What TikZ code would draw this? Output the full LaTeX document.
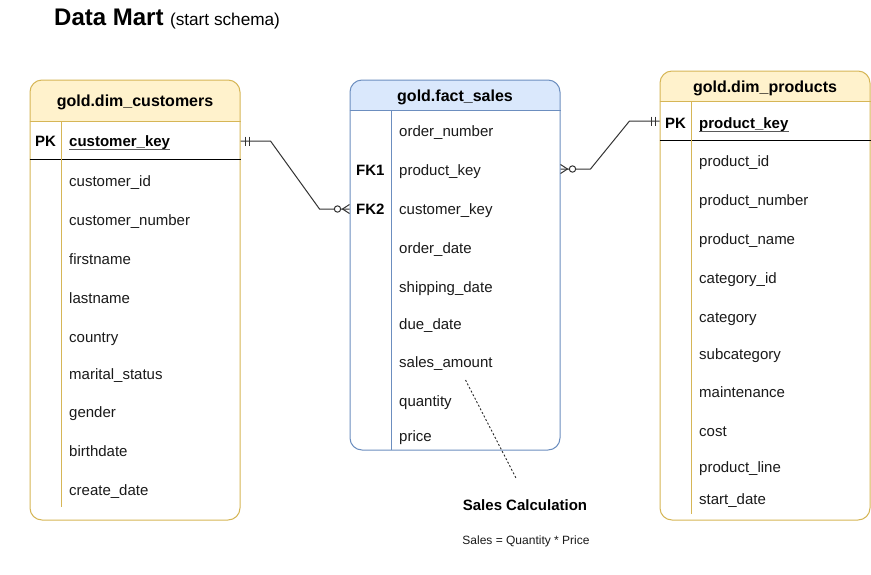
\documentclass[tikz,border=0pt]{standalone}
\usepackage{fontspec}
\setmainfont{Liberation Sans}
\definecolor{yfill}{HTML}{FFF2CC}
\definecolor{ydraw}{HTML}{D6B656}
\definecolor{bfill}{HTML}{DAE8FC}
\definecolor{bdraw}{HTML}{6C8EBF}
\definecolor{txt}{HTML}{1A1A1A}
\tikzset{
  field/.style={anchor=base west, inner sep=0pt, font=\fontsize{15}{18}\selectfont, text=txt},
  keyfield/.style={anchor=base west, inner sep=0pt, font=\fontsize{15}{18}\selectfont\bfseries, text=black},
  tabtitle/.style={anchor=base, inner sep=0pt, font=\fontsize{16}{19}\selectfont\bfseries, text=black},
  tbl/.style={draw, rounded corners=12pt, inner sep=0pt, line width=1pt},
  conn/.style={line width=1pt, draw=black!80},
  sep/.style={line width=1pt},
  uline/.style={line width=1.3pt, draw=black!65},
}
\begin{document}
\begin{tikzpicture}[x=1pt,y=-1pt]
\useasboundingbox (0,0) rectangle (871,574);
\fill[white] (0,0) rectangle (871,574);

% title
\node[anchor=base west, inner sep=0pt] (title) at (54,25)
  {{\fontsize{24}{28}\selectfont\bfseries Data Mart}\hspace{6.5pt}{\fontsize{17.2}{20}\selectfont (start schema)}};

% ---------- customers ----------
\begin{scope}
  \clip[rounded corners=12pt] (30,80) rectangle (240,520);
  \fill[yfill] (30,80) rectangle (240,121);
\end{scope}
\node[tbl, draw=ydraw, minimum width=210pt, minimum height=440pt] (cust) at (135,300) {};
\draw[sep, draw=ydraw] (cust.west |- 0,121) -- (cust.east |- 0,121);
\draw[sep, draw=black] (cust.west |- 0,159) -- (cust.east |- 0,159);
\draw[sep, draw=ydraw] (61,121) -- (61,507);
\node[tabtitle] (custh) at (135,106.5) {gold.dim\_customers};
\coordinate (r-ckey) at (135,141);
\node[keyfield] (cpk) at (35,146.5) {PK};
\node[keyfield] (c1) at (69,146.5) {customer\_key};
\draw[uline] ([yshift=-3pt]c1.base west) -- ([yshift=-3pt]c1.base east);
\node[field] (c2) at (69,186.5) {customer\_id};
\node[field] (c3) at (69,225.5) {customer\_number};
\node[field] (c4) at (69,264.5) {firstname};
\node[field] (c5) at (69,303.5) {lastname};
\node[field] (c6) at (69,342.5) {country};
\node[field] (c7) at (69,379.5) {marital\_status};
\node[field] (c8) at (69,417.5) {gender};
\node[field] (c9) at (69,456.5) {birthdate};
\node[field] (c10) at (69,495.5) {create\_date};

% ---------- fact sales ----------
\begin{scope}
  \clip[rounded corners=12pt] (350,80) rectangle (560,450);
  \fill[bfill] (350,80) rectangle (560,110.5);
\end{scope}
\node[tbl, draw=bdraw, minimum width=210pt, minimum height=370pt] (fact) at (455,265) {};
\draw[sep, draw=bdraw] (fact.west |- 0,110.5) -- (fact.east |- 0,110.5);
\draw[sep, draw=bdraw] (391,110.5) -- (391,450);
\node[tabtitle] (facth) at (455,101.5) {gold.fact\_sales};
\coordinate (r-fk1) at (455,169);
\coordinate (r-fk2) at (455,209);
\node[field] (f1) at (399,136.5) {order\_number};
\node[keyfield] (fk1) at (356,175.5) {FK1};
\node[field] (f2) at (399,175.5) {product\_key};
\node[keyfield] (fk2) at (356,214.5) {FK2};
\node[field] (f3) at (399,214.5) {customer\_key};
\node[field] (f4) at (399,253.5) {order\_date};
\node[field] (f5) at (399,292.5) {shipping\_date};
\node[field] (f6) at (399,329.5) {due\_date};
\node[field] (f7) at (399,367.5) {sales\_amount};
\node[field] (f8) at (399,406.5) {quantity};
\node[field] (f9) at (399,441.5) {price};

% ---------- products ----------
\begin{scope}
  \clip[rounded corners=12pt] (660,71) rectangle (870,520);
  \fill[yfill] (660,71) rectangle (870,101.5);
\end{scope}
\node[tbl, draw=ydraw, minimum width=210pt, minimum height=449pt] (prod) at (765,295.5) {};
\draw[sep, draw=ydraw] (prod.west |- 0,101.5) -- (prod.east |- 0,101.5);
\draw[sep, draw=black] (prod.west |- 0,140.5) -- (prod.east |- 0,140.5);
\draw[sep, draw=ydraw] (691,101.5) -- (691,514);
\node[tabtitle] (prodh) at (765,92.5) {gold.dim\_products};
\coordinate (r-pkey) at (765,121);
\node[keyfield] (ppk) at (665,128.5) {PK};
\node[keyfield] (p1) at (699,128.5) {product\_key};
\draw[uline] ([yshift=-3pt]p1.base west) -- ([yshift=-3pt]p1.base east);
\node[field] (p2) at (699,166.5) {product\_id};
\node[field] (p3) at (699,205.5) {product\_number};
\node[field] (p4) at (699,244.5) {product\_name};
\node[field] (p5) at (699,283.5) {category\_id};
\node[field] (p6) at (699,322.5) {category};
\node[field] (p7) at (699,359.5) {subcategory};
\node[field] (p8) at (699,397.5) {maintenance};
\node[field] (p9) at (699,436.5) {cost};
\node[field] (p10) at (699,472.5) {product\_line};
\node[field] (p11) at (699,504.5) {start\_date};

% ---------- connectors ----------
\draw[conn] (cust.east |- r-ckey) -- ++(30,0) -- ([xshift=-30pt]fact.west |- r-fk2) -- (fact.west |- r-fk2);
% one-mandatory ticks at customers
\draw[conn] ([xshift=5pt]cust.east |- r-ckey) ++(0,-4.5) -- ++(0,9);
\draw[conn] ([xshift=9pt]cust.east |- r-ckey) ++(0,-4.5) -- ++(0,9);
% zero-or-many at fact FK2
\draw[conn, fill=white] ([xshift=-12pt]fact.west |- r-fk2) circle (3.2pt);
\draw[conn] ([xshift=-7pt]fact.west |- r-fk2) -- ([yshift=-4.5pt]fact.west |- r-fk2);
\draw[conn] ([xshift=-7pt]fact.west |- r-fk2) -- ([yshift=4.5pt]fact.west |- r-fk2);

\draw[conn] (fact.east |- r-fk1) -- ++(30,0) -- ([xshift=-30pt]prod.west |- r-pkey) -- (prod.west |- r-pkey);
% zero-or-many at fact FK1
\draw[conn, fill=white] ([xshift=12pt]fact.east |- r-fk1) circle (3.2pt);
\draw[conn] ([xshift=7pt]fact.east |- r-fk1) -- ([yshift=-4.5pt]fact.east |- r-fk1);
\draw[conn] ([xshift=7pt]fact.east |- r-fk1) -- ([yshift=4.5pt]fact.east |- r-fk1);
% one-mandatory ticks at products
\draw[conn] ([xshift=-8pt]prod.west |- r-pkey) ++(0,-4.5) -- ++(0,9);
\draw[conn] ([xshift=-4.5pt]prod.west |- r-pkey) ++(0,-4.5) -- ++(0,9);

% ---------- note ----------
\coordinate (d1) at (465.5,380);
\coordinate (d2) at (516.5,479);
\draw[line width=0.9pt, dash pattern=on 2pt off 2pt, draw=black!85] (d1) -- (d2);
\node[anchor=base, inner sep=0pt, font=\fontsize{15}{18}\selectfont\bfseries] (calc) at (525,510.5) {Sales Calculation};
\node[anchor=base, inner sep=0pt, font=\fontsize{12}{14}\selectfont, text=txt] (formula) at (526,544.5) {Sales = Quantity * Price};
\end{tikzpicture}
\end{document}
